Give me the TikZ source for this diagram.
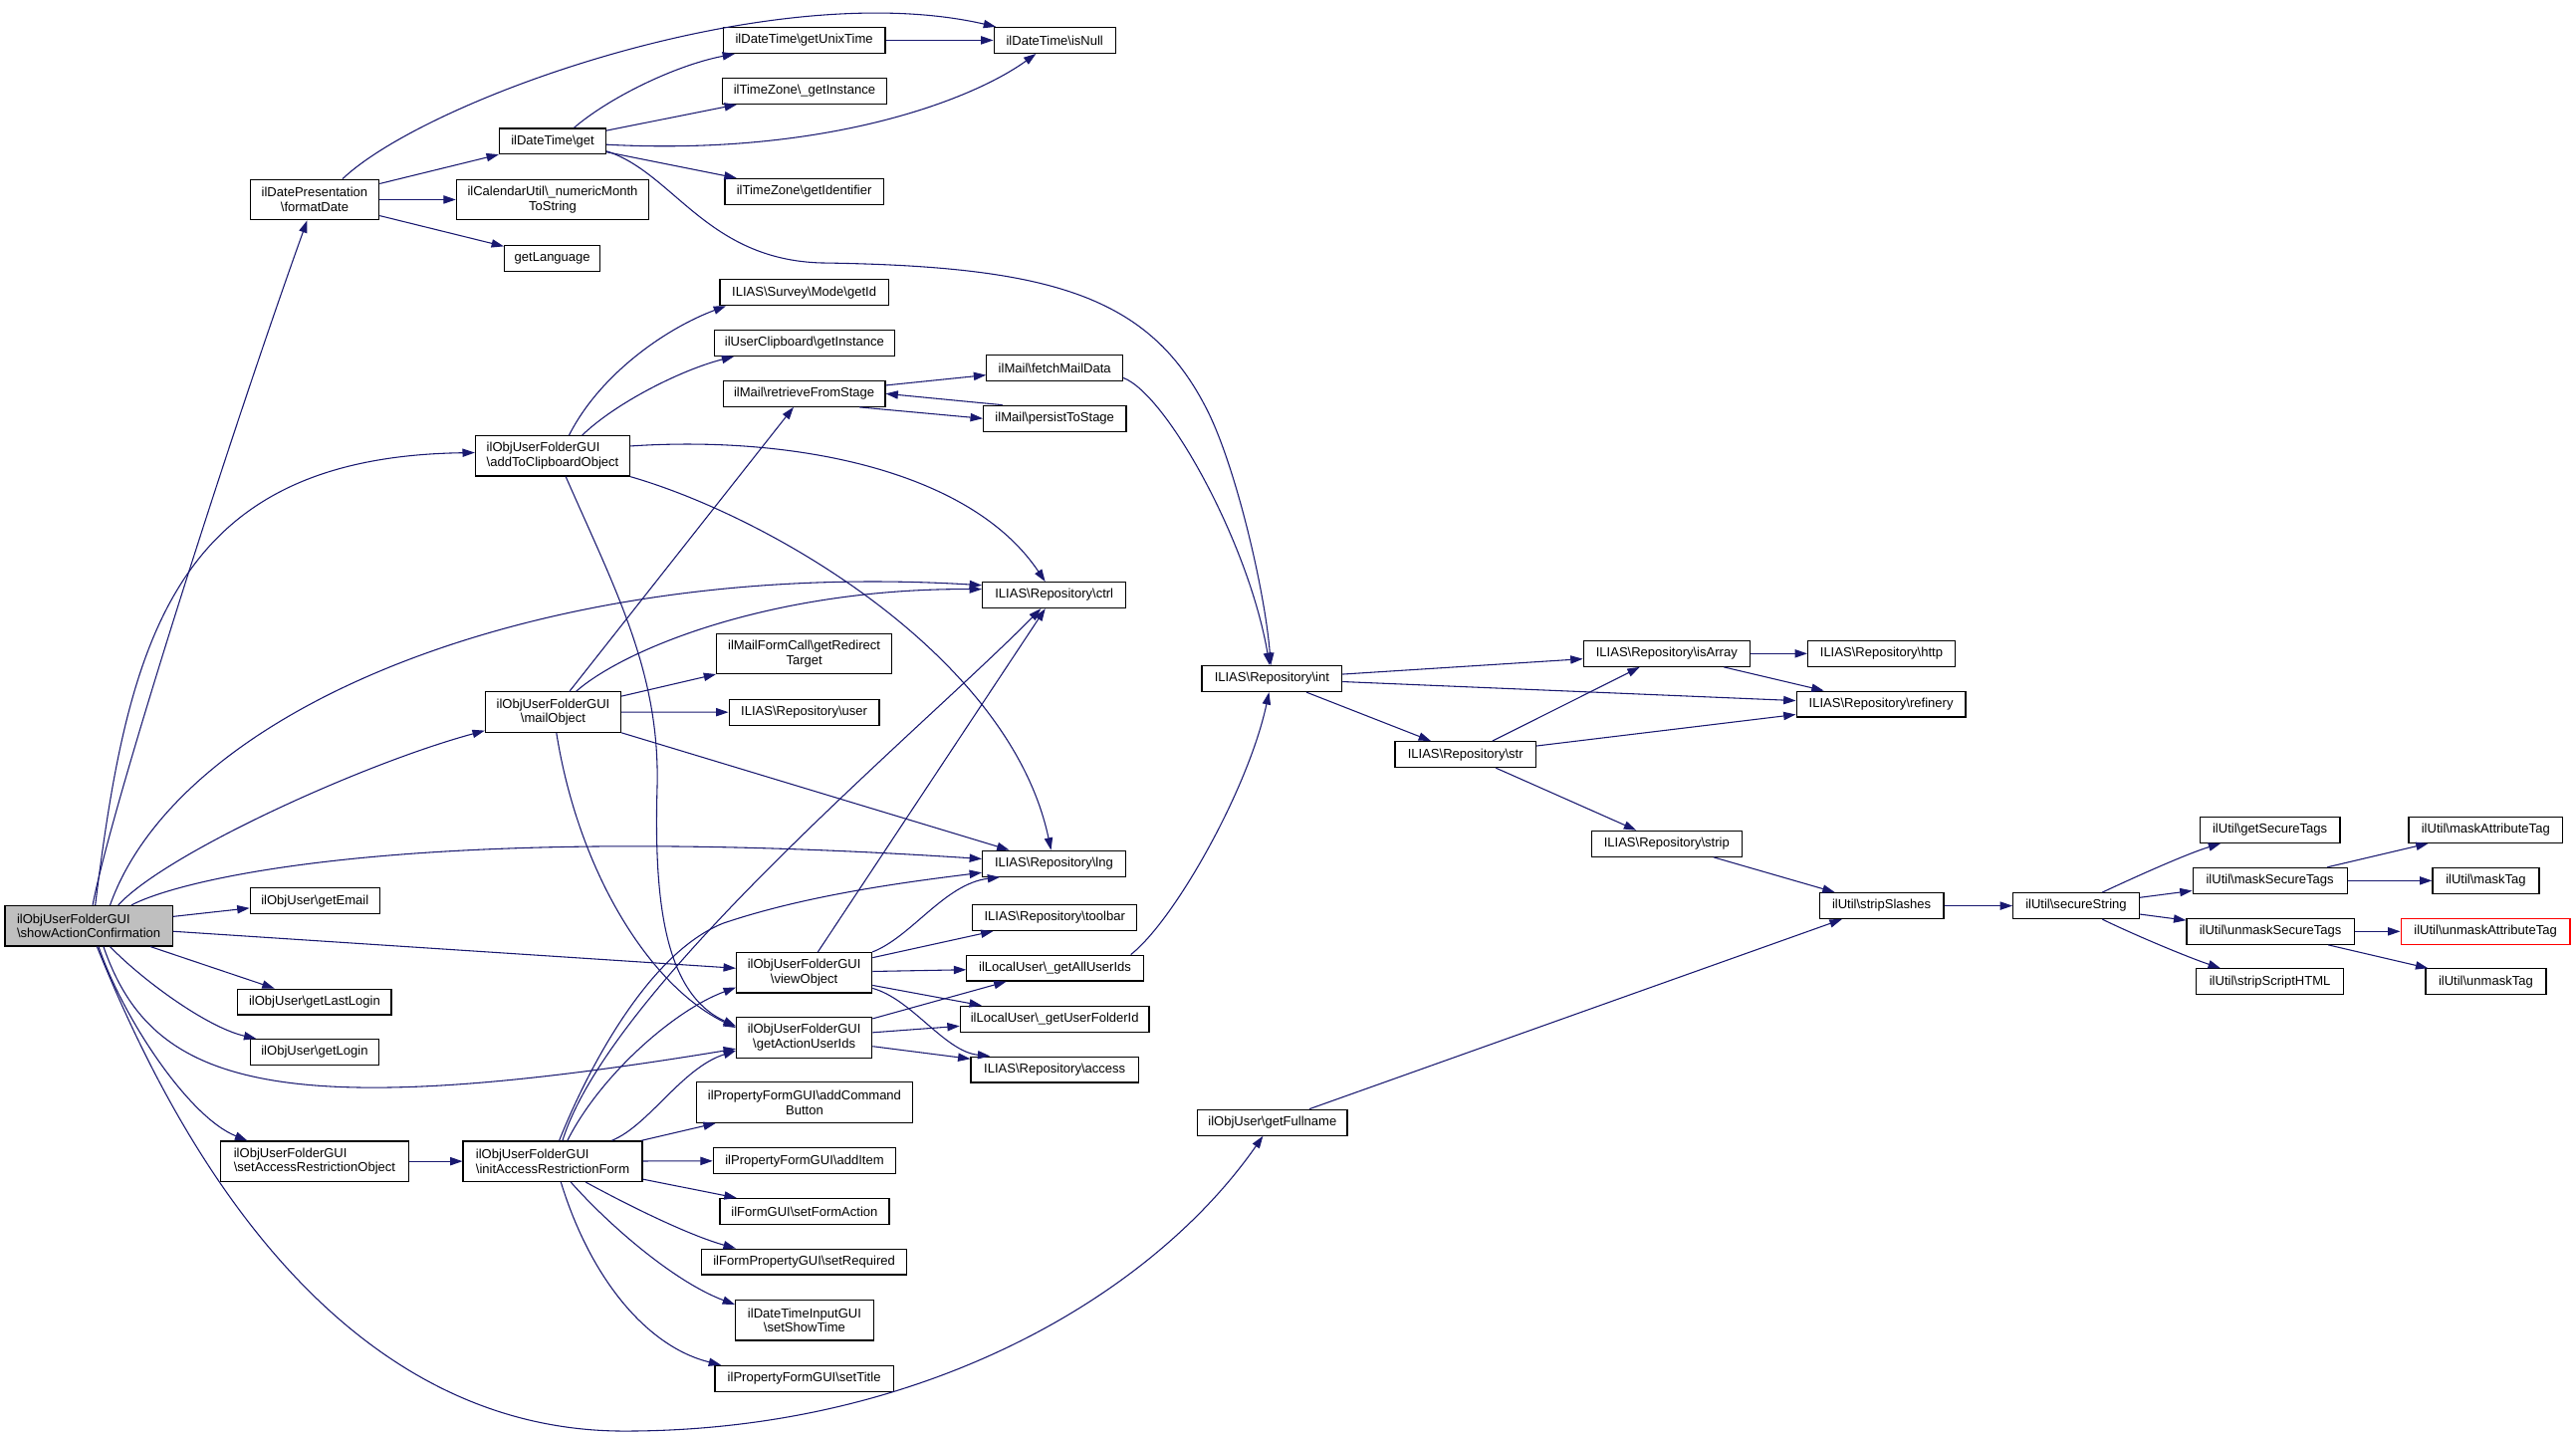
\documentclass[tikz,border=0pt]{standalone}
\usepackage{fontspec}
\setmainfont{Liberation Sans}
\usetikzlibrary{arrows.meta,calc}
\definecolor{edgec}{HTML}{191970}
\definecolor{rootfill}{HTML}{BFBFBF}
\newcommand{\bks}{\textbackslash}
\tikzset{
  box/.style={draw=black, fill=white, line width=0.75pt, inner xsep=2pt, inner ysep=0pt,
    font=\fontsize{7.9}{8.9}\selectfont, minimum height=15.7pt, align=center},
  two/.style={minimum height=24.5pt},
  e/.style={draw=edgec, line width=0.65pt, -{Triangle[length=7.5pt,width=5pt]}}
}
\begin{document}
\begin{tikzpicture}[x=1pt,y=-1pt]
\fill[white] (0,0) rectangle (1568,873.4);
\path[use as bounding box] (0,0) rectangle (1568,873.4);
% nodes
\node[box, two, minimum width=102pt, fill=rootfill, align=left] (S) at (54,563.5) {ilObjUserFolderGUI\\\bks showActionConfirmation};
\node[box, two, minimum width=78.4pt] (F) at (191.5,121.5) {ilDatePresentation\\\bks formatDate};
\node[box, minimum width=64.8pt] (G) at (336.4,86) {ilDateTime\bks get};
\node[box, minimum width=98.5pt] (GU) at (489.5,24.5) {ilDateTime\bks getUnixTime};
\node[box, minimum width=74pt] (NU) at (642,24.5) {ilDateTime\bks isNull};
\node[box, minimum width=100pt] (TZI) at (489.7,55.4) {ilTimeZone\bks\_getInstance};
\node[box, minimum width=96.5pt] (TZD) at (489.5,116.6) {ilTimeZone\bks getIdentifier};
\node[box, two, minimum width=117.1pt] (CU) at (336.4,121.5) {ilCalendarUtil\bks\_numericMonth\\ToString};
\node[box, minimum width=58.3pt] (GL) at (336.2,157.2) {getLanguage};
\node[box, minimum width=102.5pt] (SG) at (489.5,178) {ILIAS\bks Survey\bks Mode\bks getId};
\node[box, minimum width=110pt] (UC) at (489.7,208.7) {ilUserClipboard\bks getInstance};
\node[box, minimum width=98.5pt] (RS) at (489.5,239.6) {ilMail\bks retrieveFromStage};
\node[box, minimum width=82.9pt] (FM) at (642,224) {ilMail\bks fetchMailData};
\node[box, minimum width=86.9pt] (PS) at (642,254.7) {ilMail\bks persistToStage};
\node[box, two, minimum width=94pt, align=left] (A) at (336.4,277.5) {ilObjUserFolderGUI\\\bks addToClipboardObject};
\node[box, minimum width=87.4pt] (CT) at (641.7,362.2) {ILIAS\bks Repository\bks ctrl};
\node[box, two, minimum width=106.5pt] (RT) at (489.5,397.9) {ilMailFormCall\bks getRedirect\\Target};
\node[box, minimum width=85.2pt] (INT) at (774.2,413.1) {ILIAS\bks Repository\bks int};
\node[box, two, minimum width=82.5pt] (M) at (336.7,433.4) {ilObjUserFolderGUI\\\bks mailObject};
\node[box, minimum width=91.5pt] (US) at (489.5,433.5) {ILIAS\bks Repository\bks user};
\node[box, minimum width=87pt] (LNG) at (641.5,525.6) {ILIAS\bks Repository\bks lng};
\node[box, minimum width=78.9pt] (EM) at (191.7,548.3) {ilObjUser\bks getEmail};
\node[box, minimum width=100pt] (TB) at (642,558.5) {ILIAS\bks Repository\bks toolbar};
\node[box, two, minimum width=82.5pt] (V) at (489.5,592) {ilObjUserFolderGUI\\\bks viewObject};
\node[box, minimum width=107.5pt] (AU) at (642.2,589.2) {ilLocalUser\bks\_getAllUserIds};
\node[box, minimum width=93.5pt] (LL) at (191.5,609.8) {ilObjUser\bks getLastLogin};
\node[box, minimum width=115pt] (UF) at (642,620.2) {ilLocalUser\bks\_getUserFolderId};
\node[box, two, minimum width=82.5pt] (U) at (489.5,631.5) {ilObjUserFolderGUI\\\bks getActionUserIds};
\node[box, minimum width=78.4pt] (LG) at (191.5,640.4) {ilObjUser\bks getLogin};
\node[box, minimum width=102pt] (AC) at (642,651) {ILIAS\bks Repository\bks access};
\node[box, two, minimum width=131.2pt] (ACB) at (489.7,671) {ilPropertyFormGUI\bks addCommand\\Button};
\node[box, minimum width=91.2pt] (FN) at (774.5,683.2) {ilObjUser\bks getFullname};
\node[box, two, minimum width=114.5pt, align=left] (SAR) at (191.5,706.8) {ilObjUserFolderGUI\\\bks setAccessRestrictionObject};
\node[box, two, minimum width=109pt, align=left] (I) at (336.4,706.8) {ilObjUserFolderGUI\\\bks initAccessRestrictionForm};
\node[box, minimum width=111pt] (AI) at (489.7,706.5) {ilPropertyFormGUI\bks addItem};
\node[box, minimum width=103pt] (SFA) at (489.7,737.3) {ilFormGUI\bks setFormAction};
\node[box, minimum width=124.6pt] (SR) at (489.5,768) {ilFormPropertyGUI\bks setRequired};
\node[box, two, minimum width=84pt] (SST) at (489.7,803.6) {ilDateTimeInputGUI\\\bks setShowTime};
\node[box, minimum width=108.5pt] (STI) at (489.5,839) {ilPropertyFormGUI\bks setTitle};
\node[box, minimum width=101.3pt] (IA) at (1014.5,397.8) {ILIAS\bks Repository\bks isArray};
\node[box, minimum width=89.5pt] (HT) at (1145.2,397.8) {ILIAS\bks Repository\bks http};
\node[box, minimum width=103pt] (RF) at (1145,428.6) {ILIAS\bks Repository\bks refinery};
\node[box, minimum width=85.8pt] (STR) at (892,459.2) {ILIAS\bks Repository\bks str};
\node[box, minimum width=91.7pt] (STP) at (1014.5,513.5) {ILIAS\bks Repository\bks strip};
\node[box, minimum width=85.2pt] (GST) at (1381.7,505.1) {ilUtil\bks getSecureTags};
\node[box, minimum width=93.8pt] (MAT) at (1513,505.1) {ilUtil\bks maskAttributeTag};
\node[box, minimum width=93.9pt] (MST) at (1381.7,536) {ilUtil\bks maskSecureTags};
\node[box, minimum width=64.8pt] (MT) at (1513.1,536) {ilUtil\bks maskTag};
\node[box, minimum width=75.6pt] (SS) at (1145.3,551.3) {ilUtil\bks stripSlashes};
\node[box, minimum width=76.7pt] (SEC) at (1263.7,551.3) {ilUtil\bks secureString};
\node[box, minimum width=102pt] (UST) at (1382,566.9) {ilUtil\bks unmaskSecureTags};
\node[box, minimum width=103pt, draw=red] (UAT) at (1512.9,566.9) {ilUtil\bks unmaskAttributeTag};
\node[box, minimum width=89.5pt] (SSH) at (1381.7,597.5) {ilUtil\bks stripScriptHTML};
\node[box, minimum width=73.4pt] (UT) at (1513.1,597.5) {ilUtil\bks unmaskTag};
% edges from showActionConfirmation
\draw[e] (S) .. controls (68,490) and (140,265) .. (F);
\draw[e] ($(S.north)+(4,0)$) .. controls (78,390) and (105,278) .. ($(A.west)+(0,-2)$);
\draw[e] ($(S.north)+(13,0)$) .. controls (110,430) and (330,340) .. ($(CT.west)+(0,-6)$);
\draw[e] ($(S.north)+(18,0)$) .. controls (100,520) and (220,465) .. (M);
\draw[e] ($(S.north)+(26,0)$) .. controls (110,535) and (250,500) .. (LNG);
\draw[e] (S) -- (EM);
\draw[e] (S) -- (V);
\draw[e] (S) -- (LL);
\draw[e] ($(S.south)+(13,0)$) .. controls (85,595) and (125,625) .. (LG);
\draw[e] ($(S.south)+(9,0)$) .. controls (92,660) and (165,685) .. (U);
\draw[e] ($(S.south)+(6,0)$) .. controls (75,620) and (115,680) .. ($(SAR.north)+(-41,0)$);
\draw[e] ($(S.south)+(5,0)$) .. controls (95,665) and (190,871) .. (380,871) .. controls (560,871) and (700,790) .. (FN);
% formatDate
\draw[e] ($(F.north)+(17,0)$) .. controls (260,60) and (470,-15) .. (NU);
\draw[e] (F) -- (G);
\draw[e] (F) -- (CU);
\draw[e] (F) -- (GL);
% ilDateTime get
\draw[e] ($(G.north)+(13,0)$) .. controls (370,60) and (410,40) .. (GU);
\draw[e] (G) -- (TZI);
\draw[e] ($(G.east)+(0,2)$) .. controls (500,95) and (590,62) .. (NU);
\draw[e] (G) -- (TZD);
\draw[e] ($(G.east)+(0,6)$) .. controls (410,105) and (430,158) .. (500,160) .. controls (640,162) and (700,180) .. (735,250) .. controls (752.5,285) and (770,360) .. (INT);
\draw[e] (GU) -- (NU);
% addToClipboardObject
\draw[e] ($(A.north)+(10,0)$) .. controls (365,228) and (405,200) .. ($(SG.south west)+(4,0)$);
\draw[e] ($(A.north)+(18,0)$) .. controls (375,245) and (415,225) .. ($(UC.south west)+(12.5,0)$);
\draw[e] ($(A.east)+(0,-6)$) .. controls (480,265) and (590,285) .. (CT);
\draw[e] (A.south east) .. controls (470,315) and (615,400) .. (LNG);
\draw[e] ($(A.south)+(8,0)$) .. controls (375,360) and (402,410) .. (400,480) .. controls (398,550) and (405,605) .. ($(U.west)+(0,-7)$);
% mailObject
\draw[e] (M) -- (RS);
\draw[e] ($(M.north)+(14,0)$) .. controls (380,395) and (470,358) .. ($(CT.west)+(0,-3.6)$);
\draw[e] (M) -- (RT);
\draw[e] (M) -- (US);
\draw[e] (M) -- (LNG);
\draw[e] ($(M.south)+(2,0)$) .. controls (352,530) and (395,600) .. ($(U.west)+(0,-6)$);
% mail stage
\draw[e] (RS) -- (FM);
\draw[e] ($(RS.south east)+(-16,0)$) -- (PS.west);
\draw[e] ($(PS.north west)+(12,0)$) -- (RS.east);
\draw[e] ($(FM.east)+(0,6)$) .. controls (710,240) and (760,330) .. (INT);
% viewObject
\draw[e] (V) -- (CT);
\draw[e] (V.north east) .. controls (555,570) and (575,538) .. ($(LNG.south west)+(11,0)$);
\draw[e] (V) -- (TB);
\draw[e] (V) -- (AU);
\draw[e] (V) -- (UF);
\draw[e] ($(V.east)+(0,9.5)$) .. controls (555,608) and (575,640) .. ($(AC.north west)+(12,0)$);
% getActionUserIds
\draw[e] (U) -- (AU);
\draw[e] (U) -- (UF);
\draw[e] (U) -- (AC);
\draw[e] ($(AU.north east)+(-8,0)$) .. controls (715,560) and (760,480) .. (INT);
% getFullname
\draw[e] ($(FN.north)+(22.5,0)$) -- ($(SS.south west)+(14,0)$);
% repository
\draw[e] (INT) -- (IA);
\draw[e] (INT) -- (RF);
\draw[e] (INT) -- (STR);
\draw[e] (STR) -- (IA);
\draw[e] (STR) -- (RF);
\draw[e] (STR) -- (STP);
\draw[e] (IA) -- (HT);
\draw[e] (IA) -- (RF);
\draw[e] (STP) -- (SS);
\draw[e] (SS) -- (SEC);
\draw[e] ($(SEC.north)+(16,0)$) .. controls (1297,535) and (1330,520) .. ($(GST.south west)+(13,0)$);
\draw[e] (SEC) -- (MST);
\draw[e] (SEC) -- (UST);
\draw[e] ($(SEC.south)+(16,0)$) .. controls (1297,568) and (1330,582) .. ($(SSH.north west)+(15,0)$);
\draw[e] (MST) -- (MAT);
\draw[e] (MST) -- (MT);
\draw[e] (UST) -- (UAT);
\draw[e] (UST) -- (UT);
% initAccessRestrictionForm
\draw[e] (SAR) -- (I);
\draw[e] ($(I.north)+(6,0)$) .. controls (372,600) and (560,445) .. (CT);
\draw[e] ($(I.north)+(4,0)$) .. controls (358,650) and (395,580) .. (440,562) .. controls (490,545) and (550,537) .. ($(LNG.west)+(0,5.5)$);
\draw[e] ($(I.north)+(9,0)$) .. controls (365,655) and (410,615) .. ($(V.west)+(0,9)$);
\draw[e] ($(I.north)+(36,0)$) .. controls (395,685) and (415,650) .. ($(U.west)+(0,8)$);
\draw[e] (I) -- (ACB);
\draw[e] (I) -- (AI);
\draw[e] (I) -- (SFA);
\draw[e] ($(I.south)+(20,0)$) .. controls (385,735) and (420,752) .. ($(SR.north west)+(21,0)$);
\draw[e] ($(I.south)+(11,0)$) .. controls (370,745) and (410,780) .. ($(SST.north west)+(0,3)$);
\draw[e] ($(I.south)+(5,0)$) .. controls (360,780) and (395,820) .. ($(STI.north west)+(4,0)$);
\end{tikzpicture}
\end{document}
